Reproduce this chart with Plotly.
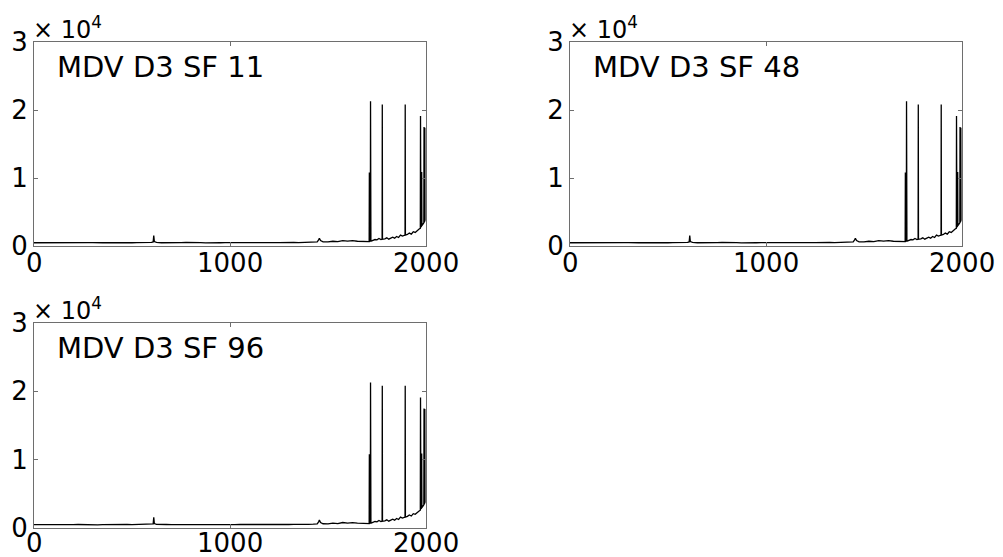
import plotly.graph_objects as go

# ---- data ----
panel_titles = ["MDV D3 SF 11", "MDV D3 SF 48", "MDV D3 SF 96"]

x_vals = [0, 25, 50, 75, 100, 125, 150, 175, 200, 225, 250, 275, 300, 325, 350, 375,
          400, 425, 450, 475, 500, 525, 550, 575, 600, 608, 611, 614, 625, 650, 675, 700,
          725, 750, 775, 800, 825, 850, 875, 900, 925, 950, 975, 1000, 1025, 1050, 1075,
          1100, 1125, 1150, 1175, 1200, 1225, 1250, 1275, 1300, 1325, 1350, 1375, 1400,
          1425, 1445, 1452, 1456, 1462, 1475, 1500, 1525, 1550, 1575, 1600, 1625, 1650,
          1675, 1700, 1710, 1711, 1712, 1713, 1716, 1717, 1718, 1719, 1720, 1730, 1740,
          1750, 1760, 1770, 1776, 1777, 1778, 1790, 1800, 1810, 1820, 1830, 1840, 1850,
          1860, 1870, 1880, 1893, 1894, 1895, 1905, 1915, 1925, 1935, 1945, 1955, 1965,
          1971, 1972, 1973, 1974, 1977, 1978, 1979, 1982, 1986, 1989, 1990, 1991, 1992,
          1993, 1994, 1995]

y_vals = [480, 470, 500, 460, 490, 520, 470, 500, 480, 510, 470, 490, 500, 460, 480, 510,
          490, 470, 500, 520, 480, 500, 470, 510, 520, 600, 1550, 650, 540, 480, 510, 490,
          470, 500, 520, 480, 500, 490, 470, 510, 500, 480, 490, 500, 480, 510, 490,
          520, 500, 480, 510, 530, 500, 490, 520, 510, 530, 500, 520, 540,
          560, 600, 900, 1150, 800, 620, 600, 700, 650, 800, 720, 780, 700,
          640, 620, 650, 10800, 650, 700, 720, 21300, 750, 700, 720, 800, 950,
          900, 1100, 950, 1000, 20800, 1000, 1050, 1200, 1000, 1150, 1300, 1150, 1400,
          1250, 1600, 1450, 1600, 20800, 1600, 1700, 1900, 1750, 2100, 2000, 2300, 2500,
          2600, 19100, 2700, 2800, 2900, 10900, 3000, 3100, 3300, 3400, 17500, 3500, 17500,
          3600, 17400, 3700]

y_tick_vals = [0, 10000, 20000, 30000]
y_tick_text = ["0", "1", "2", "3"]
x_tick_vals = [0, 1000, 2000]
x_tick_text = ["0", "1000", "2000"]

W, H = 1003, 557
# panel boxes in pixels: (left, right, top, bottom)
boxes = [(34, 426, 42, 246), (570, 962, 42, 246), (34, 426, 323, 528)]
x_label_shift = [-17, -17, -15]

FONT = "DejaVu Sans, Liberation Sans, Arial, sans-serif"

fig = go.Figure()
for i, (title, (l, r, t, b)) in enumerate(zip(panel_titles, boxes)):
    n = "" if i == 0 else str(i + 1)
    fig.add_trace(go.Scatter(x=x_vals, y=y_vals, mode="lines",
                             line=dict(color="black", width=1.3),
                             xaxis="x" + n, yaxis="y" + n, showlegend=False,
                             hoverinfo="skip"))
    axis_common = dict(showgrid=False, zeroline=False, showline=True, mirror="ticks",
                       linecolor="#6e6e6e", linewidth=1, ticks="inside", ticklen=4,
                       tickcolor="#6e6e6e", automargin=False,
                       tickfont=dict(family=FONT, size=26, color="black"))
    fig.layout["xaxis" + n] = dict(domain=[l / W, r / W], range=[0, 2000],
                                   tickvals=x_tick_vals, ticktext=x_tick_text,
                                   showticklabels=False,
                                   anchor="y" + n, **axis_common)
    fig.layout["yaxis" + n] = dict(domain=[1 - b / H, 1 - t / H], range=[0, 30000],
                                   tickvals=y_tick_vals, ticktext=y_tick_text,
                                   anchor="x" + n, ticklabelstandoff=0, **axis_common)
    # x tick labels, placed at the axis' own tick values
    for tv, tt in zip(x_tick_vals, x_tick_text):
        fig.add_annotation(x=tv, y=0, xref="x" + n, yref="y" + n, text=tt,
                           showarrow=False, xanchor="center", yanchor="middle",
                           yshift=x_label_shift[i],
                           font=dict(family=FONT, size=26, color="black"))
    fig.add_annotation(x=l / W, y=1 - t / H, xref="paper", yref="paper",
                       text="× 10<sup>4</sup>", showarrow=False, xanchor="left",
                       yanchor="bottom", yshift=-4, xshift=-3,
                       font=dict(family=FONT, size=24, color="black"))
    fig.add_annotation(x=105, y=26300, xref="x" + n, yref="y" + n, text=title,
                       showarrow=False, xanchor="left", yanchor="middle",
                       font=dict(family=FONT, size=29, color="black"))

fig.update_layout(width=W, height=H, margin=dict(l=0, r=0, t=0, b=0),
                  paper_bgcolor="white", plot_bgcolor="white")
fig.write_html("out.html", config={"displayModeBar": False},
               post_script="document.body.style.margin='0px';document.body.style.overflow='hidden';")
